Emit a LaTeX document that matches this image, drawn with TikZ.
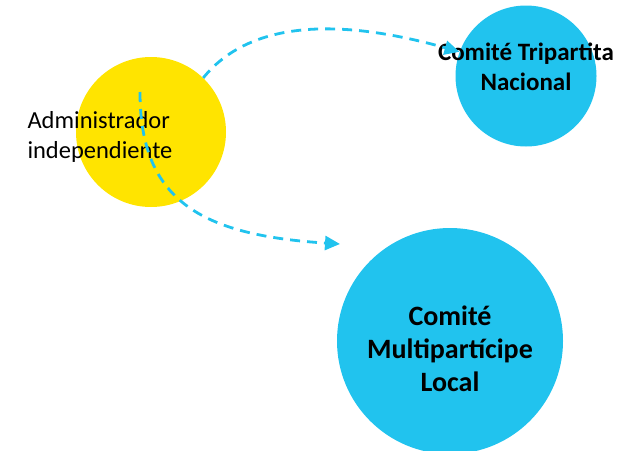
\documentclass[tikz,border=0pt]{standalone}
\usepackage{fontspec}
\setmainfont{Carlito}
\usepackage{tikz}
\usetikzlibrary{arrows.meta, positioning}
\definecolor{comiteblue}{RGB}{33,195,238}
\definecolor{adminyellow}{RGB}{255,228,0}

\begin{document}
\begin{tikzpicture}[x=1pt,y=-1pt,
    bubble/.style={circle,inner sep=0pt},
    flow/.style={-{Triangle[length=15pt,width=14pt]},comiteblue,line width=2.8pt,dash pattern=on 10pt off 7pt}]
    \useasboundingbox (0,0) rectangle (621,450);

    % Circulos
    \node[bubble,fill=adminyellow,minimum size=150pt] (admin) at (151,132) {};
    \node[bubble,fill=comiteblue,minimum size=141pt] (tri) at (526,76) {};
    \node[bubble,fill=comiteblue,minimum size=226pt] (local) at (450,341) {};

    % Textos
    \node[font=\fontsize{24.5}{30}\selectfont,align=left] (admintext) at (100,137) {Administrador\\independiente};
    \node[font=\fontsize{25}{30}\selectfont\bfseries,align=center] (tritext) at (526,67) {Comité Tripartita\\Nacional};
    \node[font=\fontsize{28}{33}\selectfont\bfseries,align=center] (localtext) at (450,349) {Comité\\Multipartícipe\\Local};

    % Flechas
    \coordinate (start2) at (140,92);
    \coordinate (end2) at (340,244);
    \draw[flow] (admin.46) .. controls (250,20) and (340,18) .. (tri.160);
    \draw[flow] (start2) .. controls (140,200) and (200,235) .. (end2);
\end{tikzpicture}
\end{document}
